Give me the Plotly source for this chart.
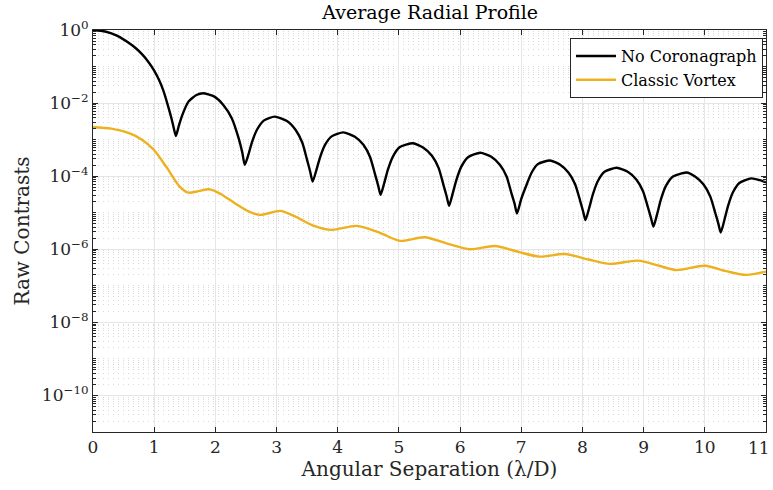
import plotly.graph_objects as go

# Angular separation (lambda/D) and log10 of raw contrast
no_coro_x = [0, 0.2, 0.4, 0.6, 0.7, 0.8, 0.9, 1.0, 1.08, 1.15, 1.22, 1.28, 1.32, 1.355,
             1.40, 1.45, 1.56, 1.69, 1.80, 1.97, 2.13, 2.27, 2.38, 2.44, 2.48,
             2.54, 2.60, 2.68, 2.79, 2.97, 3.17, 3.31, 3.42, 3.50, 3.55, 3.59,
             3.65, 3.71, 3.79, 3.90, 4.09, 4.28, 4.42, 4.53, 4.61, 4.66, 4.70,
             4.76, 4.82, 4.90, 5.01, 5.23, 5.40, 5.54, 5.65, 5.73, 5.78, 5.82,
             5.88, 5.94, 6.02, 6.13, 6.33, 6.51, 6.65, 6.76, 6.84, 6.89, 6.93,
             7.00, 7.09, 7.17, 7.27, 7.47, 7.63, 7.77, 7.88, 7.96, 8.01, 8.05,
             8.11, 8.17, 8.25, 8.36, 8.56, 8.74, 8.88, 8.99, 9.07, 9.12, 9.16,
             9.22, 9.28, 9.36, 9.47, 9.70, 9.84, 9.98, 10.09, 10.17, 10.22, 10.26,
             10.32, 10.38, 10.46, 10.57, 10.76, 10.90, 11.0]
no_coro_log10 = [0, -0.04, -0.16, -0.37, -0.50, -0.66, -0.86, -1.11, -1.37, -1.66, -2.04, -2.40, -2.68, -2.90,
                 -2.64, -2.37, -1.96, -1.78, -1.73, -1.81, -2.05, -2.42, -2.96, -3.35, -3.69,
                 -3.41, -3.06, -2.73, -2.48, -2.37, -2.49, -2.73, -3.08, -3.56, -3.88, -4.15,
                 -3.84, -3.49, -3.15, -2.91, -2.80, -2.92, -3.14, -3.48, -3.95, -4.25, -4.51,
                 -4.19, -3.82, -3.47, -3.21, -3.10, -3.22, -3.44, -3.78, -4.25, -4.55, -4.81,
                 -4.47, -4.10, -3.74, -3.48, -3.36, -3.47, -3.69, -4.01, -4.47, -4.75, -5.02,
                 -4.62, -4.22, -3.90, -3.67, -3.57, -3.68, -3.90, -4.22, -4.66, -4.96, -5.20,
                 -4.87, -4.50, -4.14, -3.88, -3.77, -3.88, -4.09, -4.41, -4.85, -5.14, -5.38,
                 -5.04, -4.65, -4.28, -4.02, -3.90, -4.01, -4.23, -4.56, -5.00, -5.29, -5.54,
                 -5.20, -4.81, -4.44, -4.18, -4.06, -4.11, -4.17]

vortex_x = [0, 0.3, 0.6, 0.8, 0.99, 1.2, 1.42, 1.56, 1.7, 1.91, 2.1, 2.32, 2.55, 2.73, 3.06, 3.3,
            3.6, 3.9, 4.31, 4.69, 5.02, 5.42, 5.8, 6.16, 6.57, 6.95, 7.3, 7.71, 8.1, 8.45, 8.91,
            9.25, 9.54, 10.0, 10.35, 10.68, 11.0]
vortex_log10 = [-2.66, -2.70, -2.83, -3.00, -3.27, -3.75, -4.29, -4.45, -4.42, -4.36, -4.50, -4.74, -4.97,
                -5.06, -4.95, -5.10, -5.35, -5.47, -5.36, -5.55, -5.77, -5.67, -5.85, -6.00, -5.91, -6.07,
                -6.20, -6.13, -6.28, -6.40, -6.31, -6.45, -6.57, -6.45, -6.60, -6.70, -6.61]

y_tick_vals = [1e0, 1e-2, 1e-4, 1e-6, 1e-8, 1e-10]
y_tick_text = ["10<sup>0</sup>", "10<sup>−2</sup>", "10<sup>−4</sup>", "10<sup>−6</sup>",
               "10<sup>−8</sup>", "10<sup>−10</sup>"]
x_tick_vals = [0, 1, 2, 3, 4, 5, 6, 7, 8, 9, 10, 11]
x_tick_text = ["0", "1", "2", "3", "4", "5", "6", "7", "8", "9", "10", "11"]

no_coro_y = [10 ** v for v in no_coro_log10]
vortex_y = [10 ** v for v in vortex_log10]

FONT = "'DejaVu Serif', 'Liberation Serif', serif"
TXT = "#262626"

fig = go.Figure()
fig.add_trace(go.Scatter(x=no_coro_x, y=no_coro_y, mode="lines", name="No Coronagraph",
                         line=dict(color="black", width=2.4, shape="spline", smoothing=0.6)))
fig.add_trace(go.Scatter(x=vortex_x, y=vortex_y, mode="lines", name="Classic Vortex",
                         line=dict(color="#EDB120", width=2.4, shape="spline", smoothing=0.8)))

fig.update_layout(
    width=773, height=490,
    margin=dict(l=93, r=7, t=30, b=58, autoexpand=False),
    paper_bgcolor="white", plot_bgcolor="white",
    font=dict(family=FONT, size=16, color=TXT),
    title=dict(text="Average Radial Profile", x=0.5565, xanchor="center", y=0.975, yanchor="middle",
               font=dict(family=FONT, size=19, color="black")),
    showlegend=True,
    legend=dict(x=0.9955, xanchor="right", y=0.98, yanchor="top",
                bgcolor="white", bordercolor="#262626", borderwidth=1,
                font=dict(family=FONT, size=16, color="black"),
                tracegroupgap=0, itemwidth=40),
)

# the last tick label sits at the right edge of the page; draw it right-aligned so it stays visible
fig.add_annotation(x=x_tick_vals[-1], xref="x", y=0, yref="paper", text=x_tick_text[-1],
                   showarrow=False, xanchor="right", yanchor="top", xshift=6, yshift=-4,
                   font=dict(family=FONT, size=17, color=TXT))

fig.update_xaxes(
    range=[0, 11], tickvals=x_tick_vals[:-1], ticktext=x_tick_text[:-1], ticks="inside", ticklen=5,
    tickcolor="#262626",
    showline=True, linecolor="#262626", linewidth=1, mirror="allticks",
    showgrid=True, gridcolor="#e6e6e6", gridwidth=1, zeroline=False, automargin=False,
    tickfont=dict(family=FONT, size=17, color=TXT),
    title=dict(text="Angular Separation (λ/D)", font=dict(family=FONT, size=20, color=TXT), standoff=5),
)
fig.update_yaxes(
    type="log", range=[-11, 0], tickvals=y_tick_vals, ticktext=y_tick_text,
    ticks="inside", ticklen=5, tickcolor="#262626",
    showline=True, linecolor="#262626", linewidth=1, mirror="allticks",
    showgrid=True, gridcolor="#e6e6e6", gridwidth=1, zeroline=False, automargin=False,
    tickfont=dict(family=FONT, size=17, color=TXT),
    title=dict(text="Raw Contrasts", font=dict(family=FONT, size=20, color=TXT), standoff=6),
    minor=dict(dtick="D1", showgrid=True, gridcolor="#d9d9d9", griddash="1px,4px", gridwidth=1,
               ticks="inside", ticklen=3, tickcolor="#262626"),
)

fig.write_html("out.html")
